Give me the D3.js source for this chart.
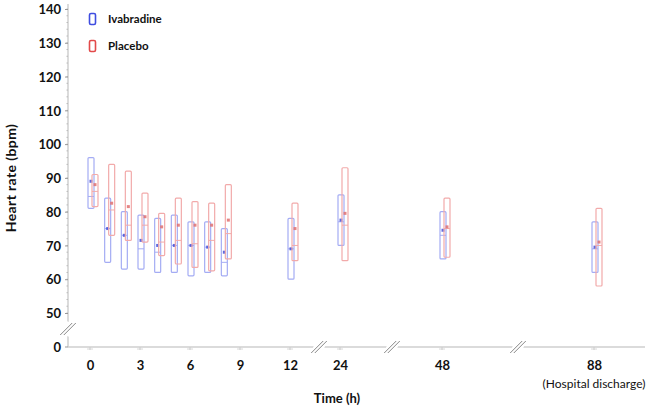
<!DOCTYPE html>
<html>
<head>
<meta charset="utf-8">
<script src="https://cdn.jsdelivr.net/npm/d3@7"></script>
<style>
  body { margin: 0; background: #fff; }
  text { font-family: Lato, "Open Sans", sans-serif; fill: #111; }
  .tick-label { font-weight: bold; font-size: 13px; }
  .axis-title { font-weight: bold; font-size: 13px; }
  .legend-label { font-weight: bold; font-size: 11.5px; }
</style>
</head>
<body>
<div id="vis"></div>
<script>
'use strict';

// time points (hours)
var hours = [0, 1, 2, 3, 4, 5, 6, 7, 8, 12, 24, 48, 88];
var xTickValues = [0, 3, 6, 9, 12, 24, 48, 88];
var yTickValues = [50, 60, 70, 80, 90, 100, 110, 120, 130, 140];

// ivabradine: box top / bottom, mean, median
var ivaMax = [96, 84, 80, 79, 78, 79, 77, 77, 75, 78, 85, 80, 77];
var ivaMin = [81, 65, 63, 63, 62, 62, 61, 62, 61, 60, 70, 66, 62];
var ivaMean = [89, 75, 73, 71.5, 70, 70, 70, 69.5, 68, 69, 77.5, 74.5, 69.5];
var ivaMedian = [84.5, 75, 73, 69, 68, 70, 70, 69.5, 65, 69, 77, 73, 69];

// placebo
var plaMax = [91, 94, 92, 85.5, 79.5, 84, 83, 82.5, 88, 82.5, 93, 84, 81];
var plaMin = [81.5, 73, 71.5, 71, 67, 64.5, 63.5, 62.5, 66, 65.5, 65.5, 66.5, 58];
var plaMean = [88, 82.5, 81.5, 78.5, 75.5, 76, 76, 76, 77.5, 75, 79.5, 75.5, 71];
var plaMedian = [86, 80.5, 76, 76, 71, 71.5, 70.5, 71.5, 73.5, 70, 76, 75, 70];

var W = 648, H = 408;
var axisX = 68, axisY = 347;

var svg = d3.select('#vis').append('svg')
    .attr('width', W)
    .attr('height', H);

//x scale is piecewise because the axis is broken between 12, 24, 48 and 88
var x = d3.scaleLinear()
    .domain([0, 12, 24, 48, 88])
    .range([90, 290, 340, 442, 594]);

//y scale for the 50-140 part, 0 is drawn below the break
var y = d3.scaleLinear()
    .domain([50, 140])
    .range([313, 9]);

// axis lines
svg.append('line')
    .attr('x1', axisX).attr('x2', axisX)
    .attr('y1', 4).attr('y2', axisY)
    .style('stroke', '#cfcfcf').style('stroke-width', 1.5);
svg.append('line')
    .attr('x1', axisX).attr('x2', 645)
    .attr('y1', axisY).attr('y2', axisY)
    .style('stroke', '#cfcfcf').style('stroke-width', 1.5);

// minor ticks on y
d3.range(50, 141, 2).forEach(function (v) {
    svg.append('line')
        .attr('x1', axisX - 1.5).attr('x2', axisX)
        .attr('y1', y(v)).attr('y2', y(v))
        .style('stroke', '#bbb').style('stroke-width', 1);
});

// y axis
var yAxis = d3.axisLeft(y).tickValues(yTickValues).tickSize(3).tickPadding(4);
var gy = svg.append('g')
    .attr('transform', 'translate(' + axisX + ',0)')
    .call(yAxis);
gy.select('.domain').remove();
gy.selectAll('.tick line').style('stroke', '#999');
gy.selectAll('.tick text').attr('class', 'tick-label').style('font-family', null).style('font-size', null)
    .attr('dy', '0.36em');

// 0 label below the break
svg.append('text')
    .attr('class', 'tick-label')
    .attr('x', axisX - 7)
    .attr('y', axisY)
    .attr('dy', '0.36em')
    .attr('text-anchor', 'end')
    .text('0');
svg.append('line')
    .attr('x1', axisX - 3).attr('x2', axisX)
    .attr('y1', axisY).attr('y2', axisY)
    .style('stroke', '#999');

// x axis
var xAxis = d3.axisBottom(x).tickValues(xTickValues).tickSize(0).tickPadding(22);
var gx = svg.append('g')
    .attr('transform', 'translate(0,' + axisY + ')')
    .call(xAxis);
gx.select('.domain').remove();
gx.selectAll('.tick text').attr('class', 'tick-label').style('font-family', null).style('font-size', null)
    .attr('dy', '0.1em');

// small x ticks
xTickValues.forEach(function (h) {
    svg.append('line')
        .attr('x1', x(h) - 3).attr('x2', x(h) + 3)
        .attr('y1', axisY + 2).attr('y2', axisY + 2)
        .style('stroke', '#d8d8d8');
    svg.append('line')
        .attr('x1', x(h)).attr('x2', x(h))
        .attr('y1', axisY).attr('y2', axisY + 3)
        .style('stroke', '#ccc');
});

svg.append('text')
    .attr('x', x(88))
    .attr('y', 388)
    .attr('text-anchor', 'middle')
    .style('font-size', '12px')
    .text('(Hospital discharge)');

// axis titles
svg.append('text')
    .attr('class', 'axis-title')
    .attr('x', 337)
    .attr('y', 403)
    .attr('text-anchor', 'middle')
    .text('Time (h)');
svg.append('text')
    .attr('class', 'axis-title')
    .attr('transform', 'translate(16,178) rotate(-90)')
    .attr('text-anchor', 'middle')
    .style('font-size', '14px')
    .style('letter-spacing', '0.4px')
    .text('Heart rate (bpm)');

// axis breaks "//"
function drawBreak(cx, cy) {
    var g = svg.append('g').attr('transform', 'translate(' + cx + ',' + cy + ')');
    g.append('polygon')
        .attr('points', '-8,5 -2,-8 8,-5 2,8')
        .style('fill', '#fff');
    [-1.8, 1.8].forEach(function (o) {
        g.append('line')
            .attr('x1', -6 + o).attr('y1', 6)
            .attr('x2', 6 + o).attr('y2', -6)
            .style('stroke', '#888').style('stroke-width', 1);
    });
}
drawBreak(axisX, 329);
drawBreak(319, axisY);
drawBreak(392, axisY);
drawBreak(518, axisY);

// boxes
var boxW = 6;
function drawGroup(maxs, mins, means, medians, offset, stroke, dark) {
    hours.forEach(function (h, i) {
        var cx = x(h) + offset;
        svg.append('rect')
            .attr('x', cx - boxW / 2)
            .attr('y', y(maxs[i]))
            .attr('width', boxW)
            .attr('height', y(mins[i]) - y(maxs[i]))
            .attr('rx', 1)
            .style('fill', 'none')
            .style('stroke', stroke)
            .style('stroke-width', 1.2);
        svg.append('line')
            .attr('x1', cx - boxW / 2).attr('x2', cx + boxW / 2)
            .attr('y1', y(medians[i])).attr('y2', y(medians[i]))
            .style('stroke', stroke)
            .style('stroke-width', 1);
        svg.append('rect')
            .attr('x', cx - 1.5)
            .attr('y', y(means[i]) - 1.5)
            .attr('width', 3)
            .attr('height', 3)
            .style('fill', dark)
            .style('opacity', 0.85);
    });
}
drawGroup(ivaMax, ivaMin, ivaMean, ivaMedian, 1, '#a4acf4', '#4450d8');
drawGroup(plaMax, plaMin, plaMean, plaMedian, 5, '#f2aaaa', '#e07070');

// legend
var legend = [
    { name: 'Ivabradine', color: '#3f4de0', y: 19 },
    { name: 'Placebo', color: '#e24a4a', y: 46 }
];
legend.forEach(function (d) {
    svg.append('rect')
        .attr('x', 89.5).attr('y', d.y - 5.5)
        .attr('width', 6).attr('height', 11)
        .attr('rx', 1.5)
        .style('fill', 'none')
        .style('stroke', d.color)
        .style('stroke-width', 1.6);
    svg.append('text')
        .attr('class', 'legend-label')
        .attr('x', 108)
        .attr('y', d.y)
        .attr('dy', '0.36em')
        .text(d.name);
});
</script>
</body>
</html>
